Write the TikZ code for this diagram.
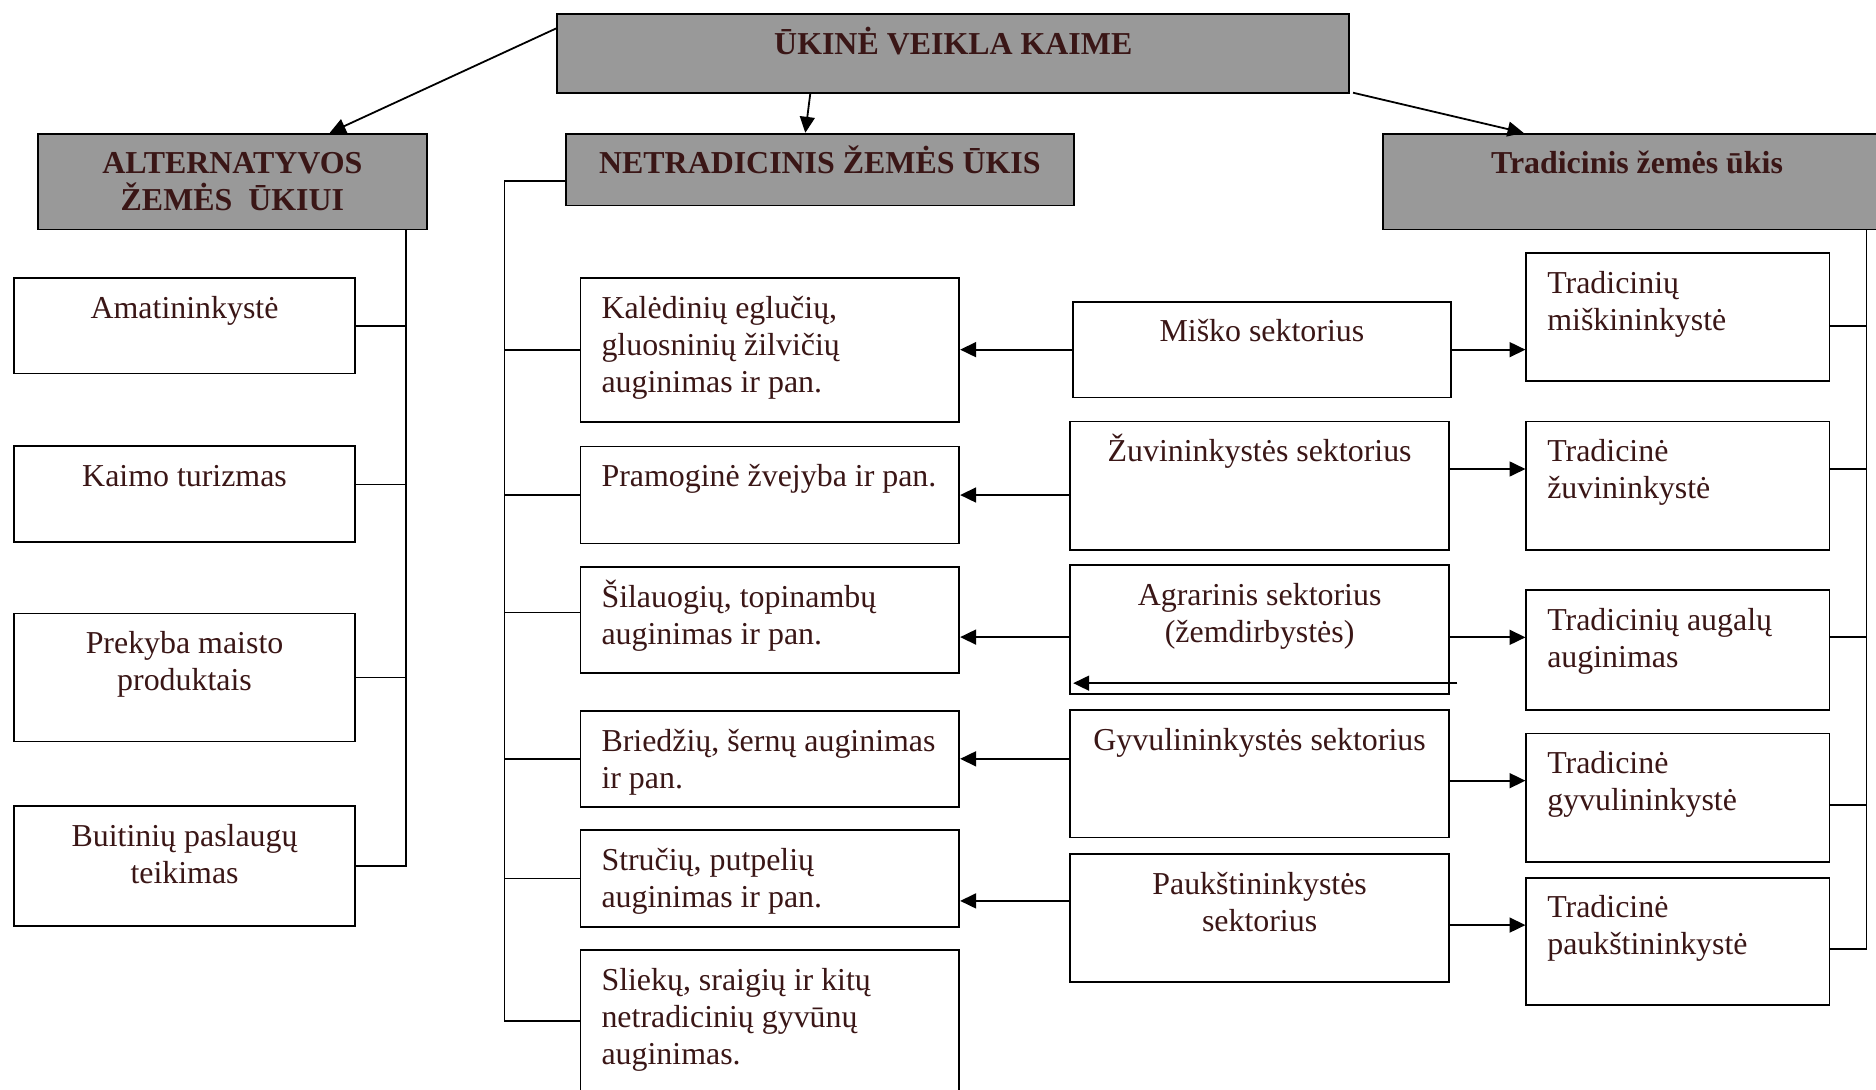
\documentclass[tikz,border=0pt]{standalone}
\usepackage{fontspec}
\setmainfont{Liberation Serif}
\usetikzlibrary{arrows.meta}
\definecolor{txtbrown}{HTML}{3A1616}
\definecolor{hdrgray}{HTML}{999999}
\newlength\unitpx
\setlength\unitpx{0.6pt}
% text at the top of a box: width, height, alignment, text
\newcommand{\toptext}[4]{\parbox[c][#2\unitpx][t]{#1\unitpx}{#3\rule{0pt}{33.6\unitpx}#4}}
\newcommand{\ctr}{\centering}
\newcommand{\lft}{\raggedright\leftskip=17.5\unitpx}
\begin{document}
\begin{tikzpicture}[x=0.6pt,y=-0.6pt,line width=0.9pt,
    >={Triangle[length=8pt,width=7.5pt]},
    box/.style={draw,fill=white,anchor=north west,inner sep=0pt,text=txtbrown,
      font=\fontsize{16}{18.6}\selectfont},
    head/.style={box,fill=hdrgray,font=\fontsize{16}{18.6}\selectfont\bfseries}]
  \useasboundingbox (0,0) rectangle (1568,911);
  \clip (0,0) rectangle (1568,911);
  %headers
  \node[head] (top) at (465,11) {\toptext{662}{66}{\ctr}{ŪKINĖ VEIKLA KAIME}};
  \node[head] (alt) at (31,111) {\toptext{325}{80}{\ctr}{ALTERNATYVOS\\ŽEMĖS\ \ ŪKIUI}};
  \node[head] (netr) at (472,111) {\toptext{425}{60}{\ctr}{NETRADICINIS ŽEMĖS ŪKIS}};
  \node[head] (trad) at (1155,111) {\toptext{425}{80}{\ctr}{Tradicinis žemės ūkis}};
  %alternatives
  \node[box] (ama) at (11,231.5) {\toptext{285}{80}{\ctr}{Amatininkystė}};
  \node[box] (tur) at (11,372) {\toptext{285}{80}{\ctr}{Kaimo turizmas}};
  \node[box] (prek) at (11,512) {\toptext{285}{107}{\ctr}{Prekyba maisto\\produktais}};
  \node[box] (buit) at (11,673) {\toptext{285}{100}{\ctr}{Buitinių paslaugų\\teikimas}};
  %non-traditional
  \node[box] (kal) at (484.5,231.5) {\toptext{316.5}{120.5}{\lft}{Kalėdinių eglučių,\\gluosninių žilvičių\\auginimas ir pan.}};
  \node[box] (pram) at (484.5,372.5) {\toptext{316.5}{81}{\lft}{Pramoginė žvejyba ir pan.}};
  \node[box] (sil) at (484.5,473) {\toptext{316.5}{88.5}{\lft}{Šilauogių, topinambų\\auginimas ir pan.}};
  \node[box] (brie) at (484.5,593.5) {\toptext{316.5}{80}{\lft}{Briedžių, šernų auginimas\\ir pan.}};
  \node[box] (stru) at (484.5,693) {\toptext{316.5}{81}{\lft}{Stručių, putpelių\\auginimas ir pan.}};
  \node[box] (sliek) at (484.5,793.5) {\toptext{316.5}{140}{\lft}{Sliekų, sraigių ir kitų\\netradicinių gyvūnų\\auginimas.}};
  %sectors
  \node[box] (misko) at (896,251.5) {\toptext{316}{80}{\ctr}{Miško sektorius}};
  \node[box] (zuv) at (893.8,351.6) {\toptext{316.5}{107.4}{\ctr}{Žuvininkystės sektorius}};
  \node[box] (agr) at (893.8,471.7) {\toptext{316.5}{107.3}{\ctr}{Agrarinis sektorius\\(žemdirbystės)}};
  \node[box] (gyv) at (893.8,592.6) {\toptext{316.5}{106.7}{\ctr}{Gyvulininkystės sektorius}};
  \node[box] (pauk) at (893.8,713) {\toptext{316.5}{107}{\ctr}{Paukštininkystės\\sektorius}};
  %traditional
  \node[box] (trmisk) at (1275,211) {\toptext{253.3}{107}{\lft}{Tradicinių\\miškininkystė}};
  \node[box] (trzuv) at (1275,351.6) {\toptext{253.3}{107.4}{\lft}{Tradicinė\\žuvininkystė}};
  \node[box] (traug) at (1275,492.3) {\toptext{253.3}{100.3}{\lft}{Tradicinių augalų\\auginimas}};
  \node[box] (trgyv) at (1275,612.4) {\toptext{253.3}{107}{\lft}{Tradicinė\\gyvulininkystė}};
  \node[box] (trpauk) at (1275,732.8) {\toptext{253.3}{106.7}{\lft}{Tradicinė\\paukštininkystė}};
  \coordinate (lsp) at (339.5,0);
  \coordinate (msp) at (421.6,0);
  \coordinate (rsp) at (1560,0);
  \coordinate (topr) at (1130.9,77.5);
  \coordinate (agrin) at (1218,571);
  \coordinate (agrtip) at (897,571);
  %top arrows
  \draw[->] (top.west |- 0,23.7) -- (alt.north -| 275.6,0);
  \draw[->] (top.south -| 677.2,0) -- (netr.north -| 673.1,0);
  \draw[->] (topr) -- (trad.north -| 1273.4,0);
  %left tree
  \draw (alt.south -| lsp) -- (lsp |- buit.east) -- (buit.east);
  \draw (ama.east) -- (ama.east -| lsp);
  \draw (tur.east |- 0,405) -- (lsp |- 0,405);
  \draw (prek.east) -- (prek.east -| lsp);
  %middle tree
  \draw (netr.west |- 0,151.3) -- (msp |- 0,151.3) -- (msp |- 0,853.4) -- (sliek.west |- 0,853.4);
  \draw (kal.west) -- (kal.west -| msp);
  \draw (pram.west) -- (pram.west -| msp);
  \draw (sil.west |- 0,512) -- (msp |- 0,512);
  \draw (brie.west) -- (brie.west -| msp);
  \draw (stru.west) -- (stru.west -| msp);
  %right tree
  \draw (trad.south -| rsp) -- (rsp |- 0,793.2) -- (trpauk.east |- 0,793.2);
  \draw (trmisk.east |- 0,272.5) -- (rsp |- 0,272.5);
  \draw (trzuv.east |- 0,392) -- (rsp |- 0,392);
  \draw (traug.east |- 0,532.7) -- (rsp |- 0,532.7);
  \draw (trgyv.east |- 0,672.9) -- (rsp |- 0,672.9);
  %sector arrows
  \draw[->] (misko.west) -- (misko.west -| kal.east);
  \draw[->] (zuv.west |- pram.east) -- (pram.east);
  \draw[->] (agr.west |- 0,532.5) -- (sil.east |- 0,532.5);
  \draw[->] (gyv.west |- brie.east) -- (brie.east);
  \draw[->] (pauk.west |- 0,753) -- (stru.east |- 0,753);
  \draw[->] (misko.east) -- (misko.east -| trmisk.west);
  \draw[->] (zuv.east |- 0,392) -- (trzuv.west |- 0,392);
  \draw[->] (agr.east |- 0,532.7) -- (traug.west |- 0,532.7);
  \draw[->] (gyv.east |- 0,652.5) -- (trgyv.west |- 0,652.5);
  \draw[->] (pauk.east |- 0,773.2) -- (trpauk.west |- 0,773.2);
  \draw[->] (agrin) -- (agrtip);
\end{tikzpicture}
\end{document}
